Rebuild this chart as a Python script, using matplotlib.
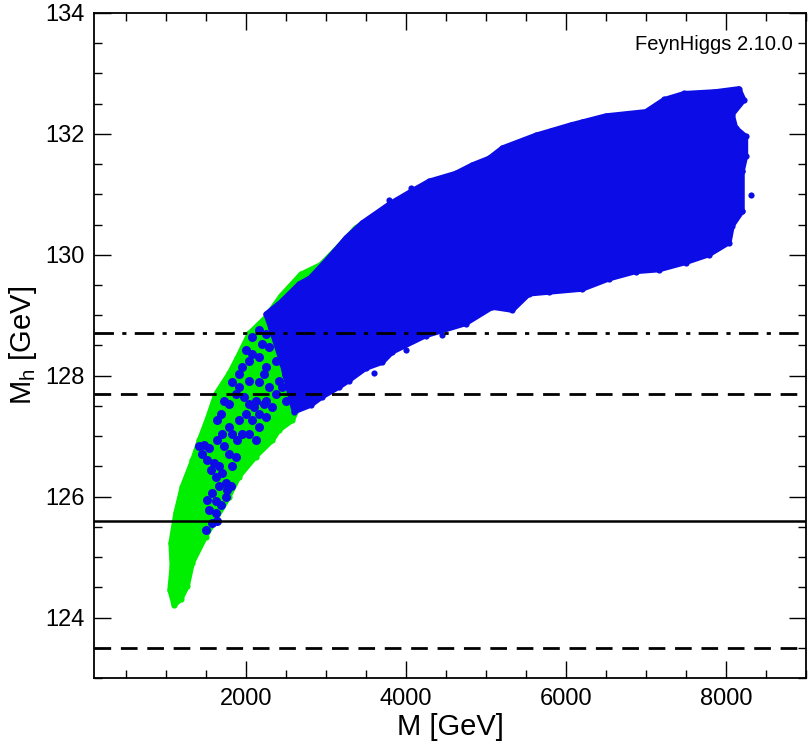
import matplotlib
matplotlib.use('Agg')
import matplotlib.pyplot as plt
import matplotlib.ticker as ticker

plt.rcParams['font.family'] = ['Liberation Sans', 'DejaVu Sans']
plt.rcParams['mathtext.fontset'] = 'custom'
plt.rcParams['mathtext.rm'] = 'Liberation Sans'
plt.rcParams['mathtext.it'] = 'Liberation Sans'

# outline of the green points (M [GeV], Mh [GeV])
green_M = [1100, 1047, 1075, 1060, 1122, 1201, 1330, 1414, 1520, 1622, 1789, 1891,
           2039, 2247, 2434, 2684, 2934, 3164, 3372, 3622, 3500, 3000, 2700, 2580,
           2414, 2330, 2122, 1914, 1789, 1622, 1497, 1330, 1268, 1185]
green_Mh = [124.2, 124.46, 124.85, 125.23, 125.73, 126.16, 126.6, 126.93, 127.3, 127.7, 128.04, 128.3,
            128.7, 128.97, 129.32, 129.68, 129.84, 130.15, 130.45, 130.64, 130.2, 128.8, 127.6, 127.26,
            127.1, 126.93, 126.66, 126.33, 126.0, 125.62, 125.34, 124.9, 124.52, 124.3]

# outline of the dense blue cloud
blue_M = [2247, 2434, 2664, 2800, 2997, 3164, 3247, 3452, 3789, 4060, 4289, 4622, 4830,
          5039, 5205, 5622, 6059, 6497, 6997, 7227, 7476, 7872, 8161, 8226, 8080,
          8122, 8247, 8247, 8204, 8204, 8080, 8039, 7789, 7497, 7164, 6872, 6539,
          6205, 5789, 5539, 5329, 5079, 4747, 4247, 3830, 3705, 3497, 3289, 3164,
          2955, 2810, 2601, 2450, 2330]
blue_Mh = [129.02, 129.22, 129.52, 129.62, 129.9, 130.15, 130.28, 130.53, 130.84, 131.05, 131.22, 131.35, 131.49,
           131.6, 131.77, 131.98, 132.15, 132.3, 132.37, 132.57, 132.67, 132.7, 132.75, 132.56, 132.32,
           132.1, 131.96, 131.63, 131.38, 130.72, 130.48, 130.2, 130.0, 129.87, 129.75, 129.72, 129.6,
           129.43, 129.38, 129.35, 129.08, 129.13, 128.86, 128.66, 128.39, 128.22, 128.12, 127.92, 127.81,
           127.65, 127.51, 127.4, 128.2, 128.7]

# single blue points sprinkled over the green ones
mix_M = [1414, 1477, 1539, 1456, 1518, 1601, 1664, 1560, 1622, 1706, 1747, 1664,
         1581, 1518, 1622, 1685, 1747, 1539, 1622, 1643, 1581, 1497, 1768, 1810,
         1831, 1872, 1789, 1727, 1643, 1706, 1789, 1831, 1893, 1956, 1914, 1997,
         2081, 2039, 2122, 2164, 2247, 2331, 2227, 2122, 2039, 1977, 1872, 1789,
         1685, 1643, 1727, 1831, 1914, 1956, 2039, 2164, 2247, 2372, 2289, 2206,
         2081, 1997, 2081, 2164, 2247, 2331, 2414, 2372, 2456, 2539, 2497, 2414,
         2289, 2372, 2497, 2456, 1914, 2164, 2227, 2039, 2102, 2247, 2164]
mix_Mh = [126.83, 126.85, 126.80, 126.71, 126.61, 126.55, 126.50, 126.44, 126.33, 126.39, 126.22, 126.17,
          126.06, 125.95, 125.92, 125.86, 126.00, 125.78, 125.73, 125.59, 125.56, 125.45, 126.11, 126.17,
          126.50, 126.66, 126.71, 126.83, 126.94, 127.04, 127.15, 127.04, 126.94, 127.04, 127.26, 127.37,
          127.26, 127.04, 126.94, 127.15, 127.32, 127.48, 127.54, 127.59, 127.54, 127.65, 127.70, 127.54,
          127.37, 127.26, 127.59, 127.90, 128.03, 128.14, 128.25, 128.31, 128.14, 128.25, 128.47, 128.53,
          128.36, 128.42, 128.64, 128.75, 128.69, 128.80, 128.97, 129.08, 128.58, 128.47, 128.03, 127.92,
          127.81, 127.70, 127.59, 127.81, 127.81, 127.90, 128.03, 127.92, 127.48, 127.59, 127.37]

# isolated blue points at the cloud's edge
blue_out_M = [8314, 7470, 3789, 4060, 5810, 6205, 7622, 7851, 8226, 8197, 8155, 8205,
              3600, 4000, 4450]
blue_out_Mh = [130.99, 132.62, 130.9, 131.1, 132.05, 132.19, 132.66, 132.70, 131.74, 131.38, 130.97, 130.72,
               128.05, 128.42, 128.68]

# horizontal reference lines
Mh_central = 125.6
Mh_dashed = [123.5, 127.7]
Mh_dashdot = 128.7

green = '#00ee00'
blue = '#0c0ce6'

fig = plt.figure(figsize=(8.09, 7.45), dpi=100)
ax = fig.add_axes([0.1162, 0.0899, 0.8801, 0.8927])

ax.fill(green_M, green_Mh, facecolor=green, edgecolor=green, linewidth=3.5, joinstyle='round', zorder=1)
ax.scatter(green_M, green_Mh, s=20, color=green, linewidths=0, zorder=1)
ax.scatter(mix_M, mix_Mh, s=42, color=blue, linewidths=0, zorder=2)
ax.fill(blue_M, blue_Mh, facecolor=blue, edgecolor=blue, linewidth=3.5, joinstyle='round', zorder=3)
ax.scatter(blue_M, blue_Mh, s=20, color=blue, linewidths=0, zorder=3)
ax.scatter(blue_out_M, blue_out_Mh, s=20, color=blue, linewidths=0, zorder=3)

ax.axhline(Mh_central, color='black', linewidth=1.8, zorder=5)
for y in Mh_dashed:
    ax.axhline(y, color='black', linewidth=2.0, dashes=(6, 3.5), zorder=5)
ax.axhline(Mh_dashdot, color='black', linewidth=2.0, dashes=(7, 3, 1.5, 3), zorder=5)

ax.set_xlim(100, 9000)
ax.set_ylim(123, 134)
ax.xaxis.set_major_locator(ticker.MultipleLocator(2000))
ax.xaxis.set_minor_locator(ticker.MultipleLocator(500))
ax.yaxis.set_major_locator(ticker.MultipleLocator(2))
ax.yaxis.set_minor_locator(ticker.MultipleLocator(0.5))
ax.tick_params(which='both', direction='in', top=True, right=True, width=1.0)
ax.tick_params(which='major', length=12, labelsize=17, pad=7)
ax.tick_params(which='minor', length=6)
for s in ax.spines.values():
    s.set_linewidth(1.3)

ax.set_xlabel('M [GeV]', fontsize=21, labelpad=2)
ax.set_ylabel(r'M$_\mathrm{h}$ [GeV]', fontsize=21, labelpad=4)
ax.text(0.982, 0.952, 'FeynHiggs 2.10.0', transform=ax.transAxes, ha='right', va='center', fontsize=14.5)

fig.savefig('out.png', dpi=100)
